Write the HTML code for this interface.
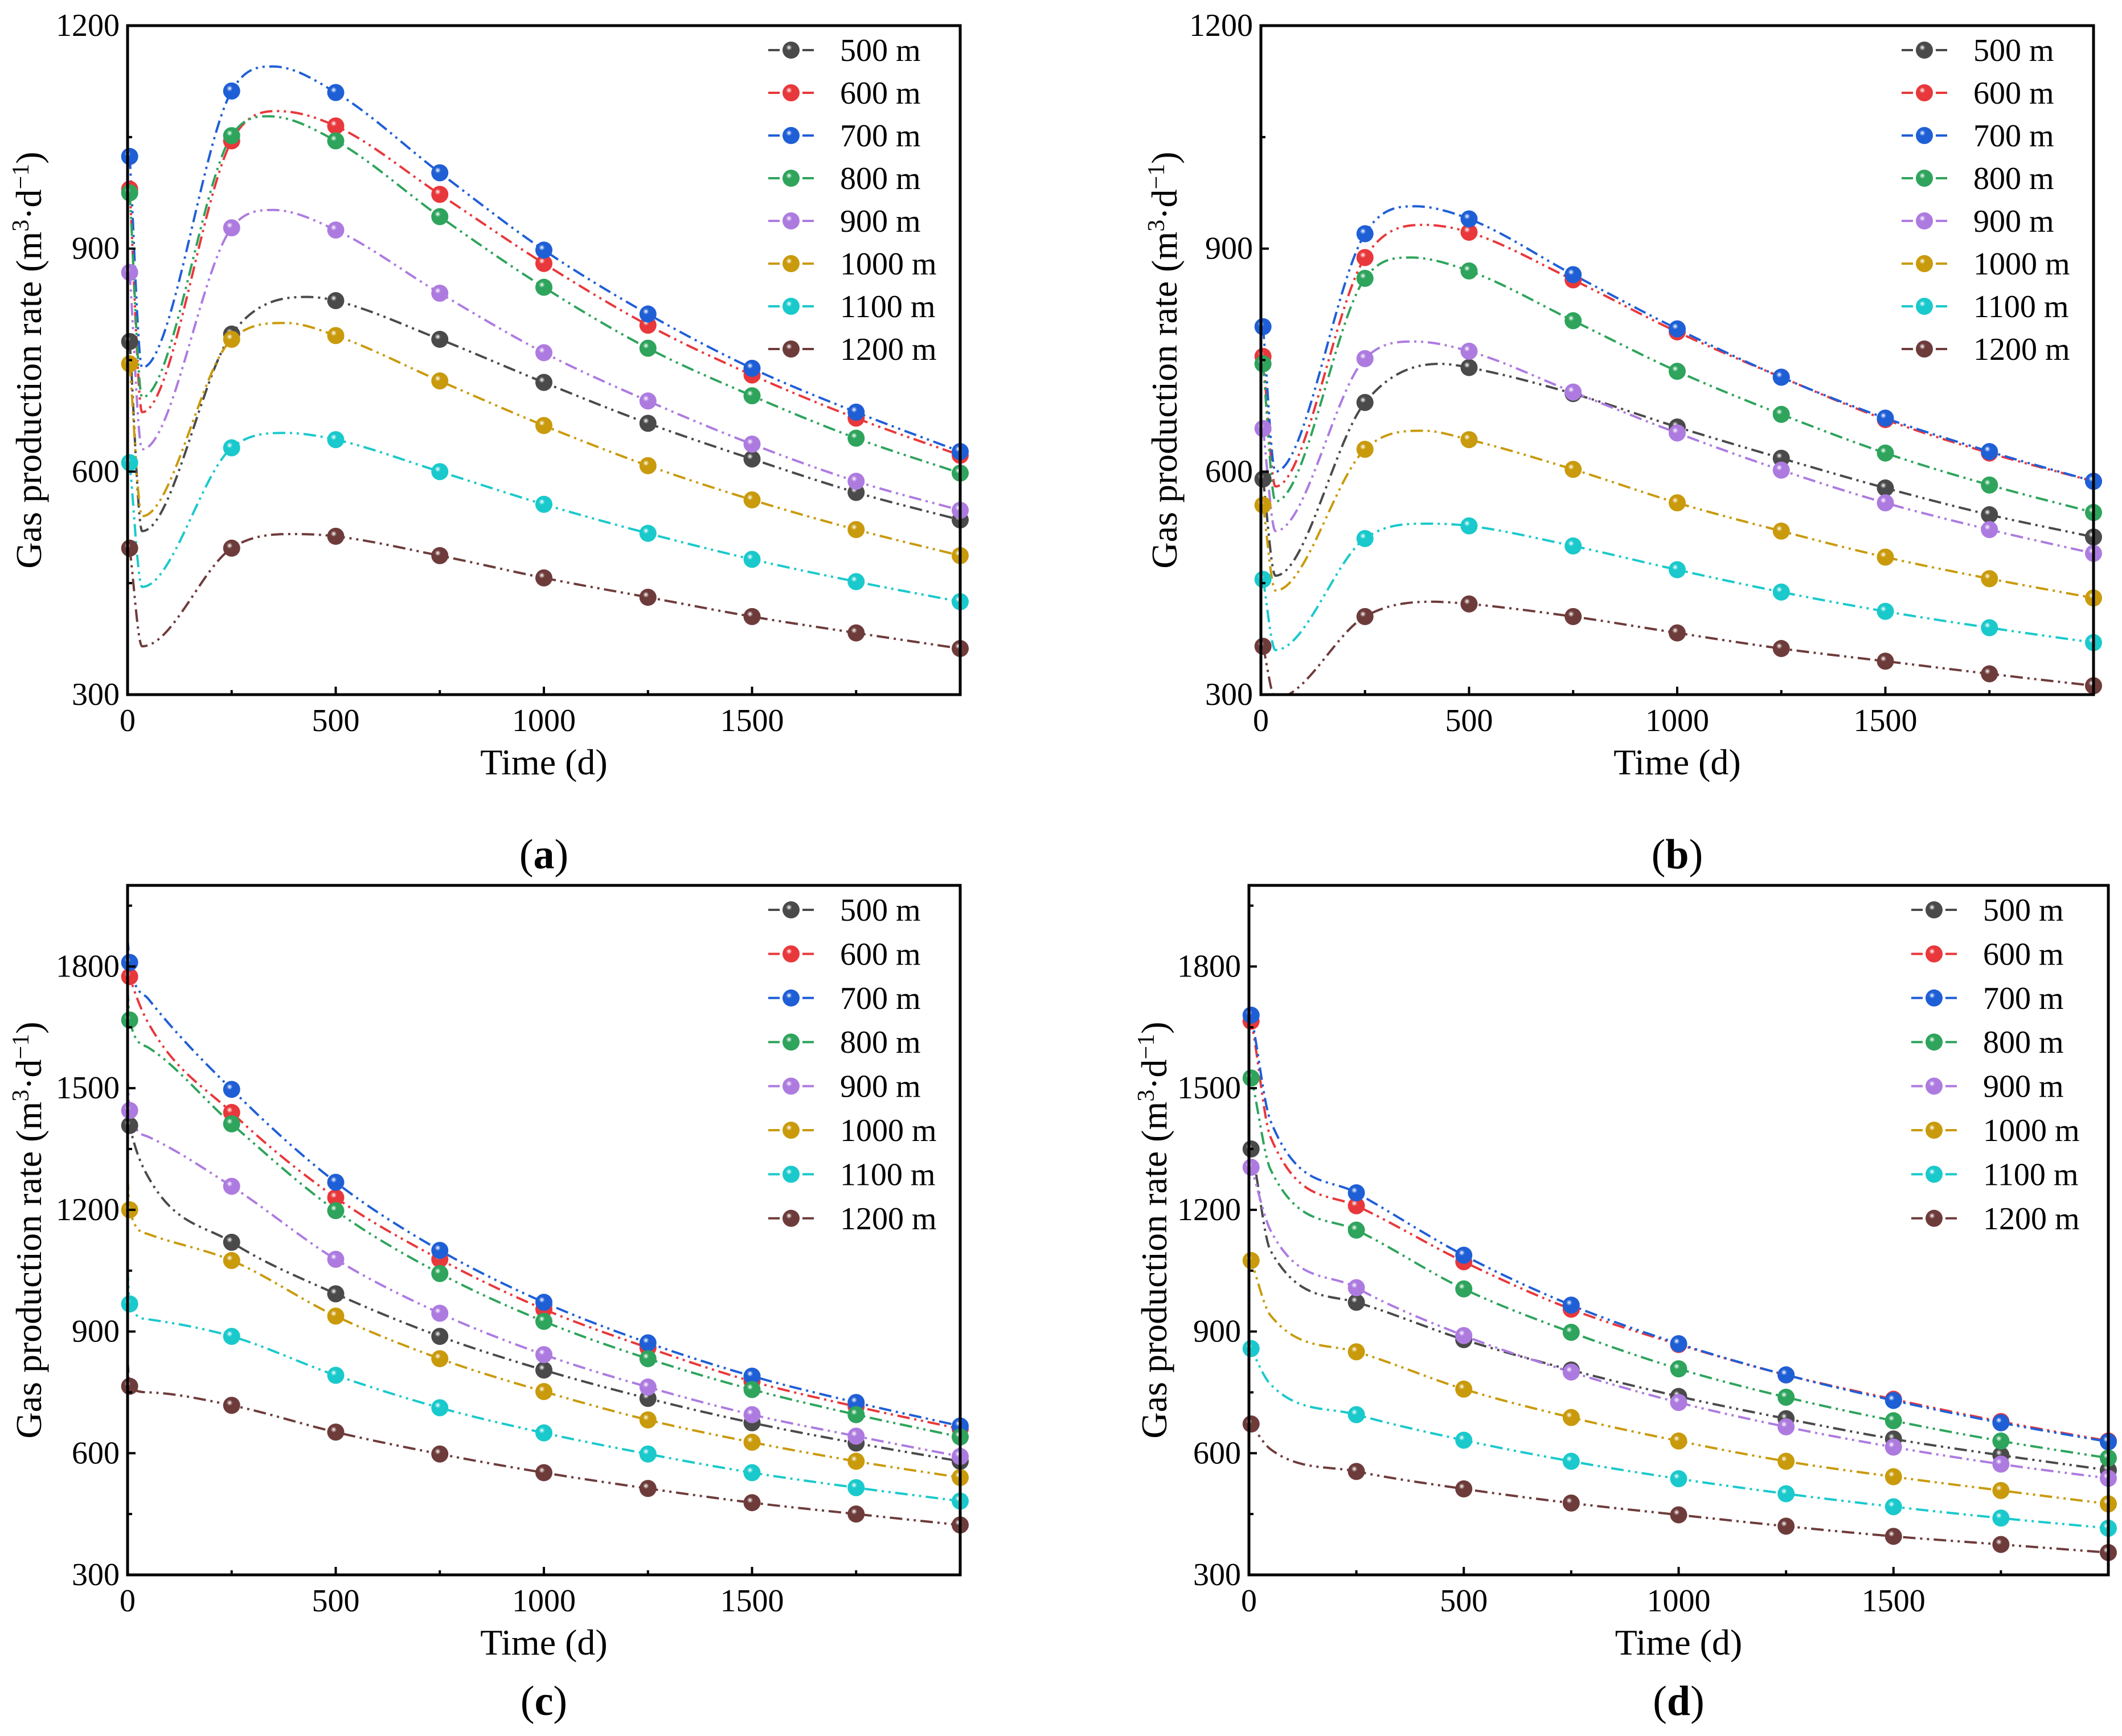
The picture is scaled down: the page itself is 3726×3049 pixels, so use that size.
<!DOCTYPE html>
<html><head><meta charset="utf-8">
<style>
html,body{margin:0;padding:0;background:#fff;}
svg{display:block;font-family:"Liberation Serif",serif;}
text{font-family:"Liberation Serif",serif;}
</style></head>
<body>
<svg id="fig" xmlns="http://www.w3.org/2000/svg" width="3726" height="3049" viewBox="0 0 3726 3049" font-family="Liberation Serif, serif">
<defs>
</defs>
</svg>
<script>
// ---------- data ----------
const seriesNames = ["500 m","600 m","700 m","800 m","900 m","1000 m","1100 m","1200 m"];
const seriesColors = ["#4a4a4a","#e8383b","#1f5fd6","#2ea45c","#ad7be0","#c99a0c","#1ac9cc","#6e3b3b"];
const markerT = [5,250,500,750,1000,1250,1500,1750,2000];

// panel a : marker values, dip (t=35) values, peak times / values
const aVals = [
 [775,785,830,778,720,665,617,572,535],
 [980,1045,1065,973,880,797,730,672,622],
 [1024,1112,1110,1002,898,812,739,680,627],
 [975,1052,1045,943,848,766,702,645,598],
 [868,928,925,840,760,695,637,587,548],
 [745,778,783,722,662,608,562,522,487],
 [612,632,643,600,556,517,482,452,425],
 [497,497,513,487,457,431,405,383,362]];
const aDip = [520,680,740,700,630,540,445,365];
const aPeakT = [430,360,350,340,350,380,380,400];
const aPeak = [835,1085,1145,1078,952,800,652,516];

// panel b
const bVals = [
 [590,693,740,705,660,618,578,542,512],
 [755,888,922,858,788,727,670,625,587],
 [795,920,940,865,792,727,672,627,587],
 [745,860,870,803,735,677,625,582,545],
 [658,752,762,707,652,602,558,522,490],
 [555,630,643,603,558,520,485,456,430],
 [455,510,527,500,468,438,412,390,370],
 [365,405,422,405,383,362,345,328,312]];
const bDip = [460,580,600,560,520,440,360,295];
const bPeakT = [430,390,370,360,370,390,400,410];
const bPeak = [745,932,957,888,775,655,530,425];

// panel c : curve start at t=0, value at t=50, then markers
const cStart = [1440,1795,1870,1745,1530,1280,1055,830];
const cEarly = [1280,1660,1720,1600,1380,1140,930,750];
const cVals = [
 [1408,1120,993,888,805,735,675,625,580],
 [1775,1440,1230,1078,955,860,777,715,660],
 [1810,1497,1268,1100,972,872,790,725,667],
 [1668,1412,1198,1043,925,833,757,695,640],
 [1445,1258,1078,945,843,763,695,642,592],
 [1200,1075,938,833,752,682,627,580,540],
 [968,888,792,712,650,598,552,515,482],
 [765,718,652,598,552,513,478,450,423]];

// panel d
const dStart = [1360,1680,1700,1540,1320,1090,870,680];
const dEarly = [1100,1380,1420,1300,1150,940,770,610];
const dVals = [
 [1350,972,880,805,740,685,635,595,558],
 [1665,1210,1072,955,868,793,733,678,630],
 [1680,1242,1088,965,870,793,730,675,628],
 [1525,1150,1005,898,808,738,680,630,588],
 [1305,1008,890,800,725,665,615,573,538],
 [1075,850,758,688,630,580,542,508,475],
 [858,695,632,580,537,500,468,440,415],
 [672,555,512,477,448,420,395,375,355]];

const xTicks = [0,500,1000,1500];
const yTicksAB = [300,600,900,1200];
const yTicksCD = [300,600,900,1200,1500,1800];

// ---------- drawing ----------
const NS = "http://www.w3.org/2000/svg";
const svg = document.getElementById("fig");
const defs = svg.querySelector("defs");
const FF = '"Liberation Serif", serif';
function el(tag, attrs, parent){
  const e = document.createElementNS(NS, tag);
  for (const k in attrs) e.setAttribute(k, attrs[k]);
  if(tag==="text") e.setAttribute("font-family", FF);
  (parent||svg).appendChild(e);
  return e;
}
seriesColors.forEach((c,i)=>{
  const g = el("radialGradient",{id:"g"+i,cx:"0.38",cy:"0.35",r:"0.7"},defs);
  el("stop",{offset:"0","stop-color":"#ffffff"},g);
  el("stop",{offset:"0.25","stop-color":c},g);
  el("stop",{offset:"1","stop-color":c},g);
});

function monotonePath(xs, ys){
  const n = xs.length; const d=[], m=[];
  for(let i=0;i<n-1;i++){ d.push((ys[i+1]-ys[i])/(xs[i+1]-xs[i])); }
  m[0]=d[0]; m[n-1]=d[n-2];
  for(let i=1;i<n-1;i++){ m[i] = (d[i-1]*d[i]<=0)?0:(d[i-1]+d[i])/2; }
  for(let i=0;i<n-1;i++){
    if(d[i]===0){m[i]=0;m[i+1]=0;continue;}
    const a=m[i]/d[i], b=m[i+1]/d[i], s=a*a+b*b;
    if(s>9){const t=3/Math.sqrt(s); m[i]=t*a*d[i]; m[i+1]=t*b*d[i];}
  }
  let p = "M"+xs[0].toFixed(1)+","+ys[0].toFixed(1);
  for(let i=0;i<n-1;i++){
    const h=(xs[i+1]-xs[i])/3;
    p += " C"+(xs[i]+h).toFixed(1)+","+(ys[i]+m[i]*h).toFixed(1)+" "+(xs[i+1]-h).toFixed(1)+","+(ys[i+1]-m[i+1]*h).toFixed(1)+" "+xs[i+1].toFixed(1)+","+ys[i+1].toFixed(1);
  }
  return p;
}

let clipId = 0;
function drawPanel(P){
  const g = el("g",{});
  
  
  const X = t => P.l + (t-0)/(2000-0)*(P.r-P.l);
  const Y = v => P.b - (v-P.ymin)/(P.ymax-P.ymin)*(P.b-P.t);
  const cp = el("clipPath",{id:"clip"+(++clipId)},defs);
  el("rect",{x:P.l,y:P.t,width:P.r-P.l,height:P.b-P.t},cp);
  const lines = el("g",{"clip-path":"url(#clip"+clipId+")"},g);
  // series
  for(let s=0;s<8;s++){
    const kn = P.knots(s);
    const path = el("path",{d:monotonePath(kn.t.map(X), kn.v.map(Y)),fill:"none",stroke:seriesColors[s],"stroke-width":4,"stroke-dasharray":"22 8 4 8 4 8"},lines);
    
    
  }
  for(let s=0;s<8;s++){
    P.vals[s].forEach((v,k)=>{
      const c = el("circle",{cx:X(markerT[k]),cy:Y(v),r:15,fill:"url(#g"+s+")"},g);
      
      
    });
  }
  // frame
  const fr = el("rect",{x:P.l,y:P.t,width:P.r-P.l,height:P.b-P.t,fill:"none",stroke:"#000","stroke-width":5},g);
   
  // x ticks
  for(let t=0;t<=2000;t+=250){
    el("line",{x1:X(t),x2:X(t),y1:P.b,y2:P.b-(t%500===0?14:8),stroke:"#000","stroke-width":4},g);
  }
  xTicks.forEach(t=>{
    const tx = el("text",{x:X(t),y:P.b+64,"text-anchor":"middle","font-size":56},g);
    tx.textContent = t;
     
  });
  // y ticks
  const step = P.yt[1]-P.yt[0];
  for(let v=P.ymin; v<=P.ymax; v+=step/2){
    el("line",{x1:P.l,x2:P.l+((v-P.ymin)%step===0?14:8),y1:Y(v),y2:Y(v),stroke:"#000","stroke-width":4},g);
  }
  P.yt.forEach(v=>{
    const tx = el("text",{x:P.l-14,y:Y(v)+18,"text-anchor":"end","font-size":56},g);
    tx.textContent = v;
     
  });
  // axis titles
  const xt = el("text",{x:(P.l+P.r)/2,y:P.b+140,"text-anchor":"middle","font-size":64},g);
  xt.textContent = "Time (d)";
   
  const yc = (P.t+P.b)/2;
  const yt = el("text",{x:P.ytx,y:yc,"text-anchor":"middle","font-size":64,transform:"rotate(-90 "+P.ytx+" "+yc+")"},g);
  yt.innerHTML = 'Gas production rate (m<tspan dy="-22" font-size="42">3</tspan><tspan dy="22">·d</tspan><tspan dy="-22" font-size="42">−1</tspan><tspan dy="22">)</tspan>';
   
  // legend
  const lg = el("g",{},g);
   
  for(let s=0;s<8;s++){
    const y = P.lgY + s*P.lgStep;
    const e = el("g",{},lg);
    
    
    el("line",{x1:P.lgX,x2:P.lgX+80,y1:y,y2:y,stroke:seriesColors[s],"stroke-width":4,"stroke-dasharray":"20 10"},e);
    el("circle",{cx:P.lgX+40,cy:y,r:15,fill:"url(#g"+s+")"},e);
    const t = el("text",{x:P.lgX+126,y:y+19,"font-size":56},e);
    t.textContent = seriesNames[s];
  }
  // caption
  const cap = el("text",{x:(P.l+P.r)/2,y:P.capY,"text-anchor":"middle","font-size":74},g);
  cap.innerHTML = '(<tspan font-weight="bold">'+P.cap+'</tspan>)';
   
}

function abKnots(vals,dip,pkT,pk){
  return s => {
    const t=[markerT[0],35,markerT[1],pkT[s]], v=[vals[s][0],dip[s],vals[s][1],pk[s]];
    for(let k=2;k<markerT.length;k++){t.push(markerT[k]); v.push(vals[s][k]);}
    const idx=t.map((x,i)=>i).sort((a,b)=>t[a]-t[b]);
    return {t:idx.map(i=>t[i]), v:idx.map(i=>v[i])};
  };
}
function cdKnots(vals,start,early){
  return s => {
    const t=[0,markerT[0],50], v=[start[s],vals[s][0],early[s]];
    for(let k=1;k<markerT.length;k++){t.push(markerT[k]); v.push(vals[s][k]);}
    return {t,v};
  };
}

drawPanel({name:"panel-a",l:224,r:1686,t:45,b:1220,ymin:300,ymax:1200,yt:yTicksAB,vals:aVals,
  knots:abKnots(aVals,aDip,aPeakT,aPeak),ytx:72,lgX:1349,lgY:88,lgStep:75,cap:"a",capY:1525});
drawPanel({name:"panel-b",l:2214,r:3676,t:45,b:1220,ymin:300,ymax:1200,yt:yTicksAB,vals:bVals,
  knots:abKnots(bVals,bDip,bPeakT,bPeak),ytx:2066,lgX:3339,lgY:88,lgStep:75,cap:"b",capY:1525});
drawPanel({name:"panel-c",l:224,r:1686,t:1555,b:2766,ymin:300,ymax:2000,yt:yTicksCD,vals:cVals,
  knots:cdKnots(cVals,cStart,cEarly),ytx:72,lgX:1349,lgY:1598,lgStep:77.4,cap:"c",capY:3012});
drawPanel({name:"panel-d",l:2193,r:3702,t:1555,b:2766,ymin:300,ymax:2000,yt:yTicksCD,vals:dVals,
  knots:cdKnots(dVals,dStart,dEarly),ytx:2048,lgX:3356,lgY:1598,lgStep:77.4,cap:"d",capY:3012});
</script>
</body></html>
